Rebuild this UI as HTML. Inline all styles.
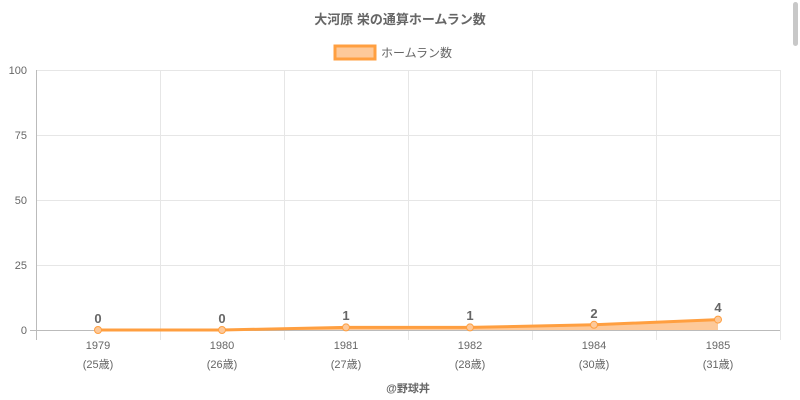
<!DOCTYPE html>
<html><head><meta charset="utf-8"><style>
html,body{margin:0;padding:0;background:#fff;width:800px;height:400px;overflow:hidden}
svg{display:block}
text{font-family:"Liberation Sans","Noto Sans CJK JP",sans-serif}
</style></head><body>
<svg width="800" height="400" viewBox="0 0 800 400">
<rect x="793" y="2" width="5" height="44" rx="2.5" fill="#c8c8c8"/>
<text x="400" y="24" text-anchor="middle" font-size="13" font-weight="bold" fill="#666">大河原 栄の通算ホームラン数</text>
<rect x="335" y="46" width="40" height="13" fill="#fdc99a" stroke="#ff9f40" stroke-width="3"/>
<text x="381" y="57" font-size="12" fill="#666">ホームラン数</text>
<g stroke="#e6e6e6" stroke-width="1">
<line x1="36" y1="70.5" x2="780" y2="70.5"/>
<line x1="36" y1="135.5" x2="780" y2="135.5"/>
<line x1="36" y1="200.5" x2="780" y2="200.5"/>
<line x1="36" y1="265.5" x2="780" y2="265.5"/>
<line x1="160.5" y1="70" x2="160.5" y2="340"/>
<line x1="284.5" y1="70" x2="284.5" y2="340"/>
<line x1="408.5" y1="70" x2="408.5" y2="340"/>
<line x1="532.5" y1="70" x2="532.5" y2="340"/>
<line x1="656.5" y1="70" x2="656.5" y2="340"/>
<line x1="780.5" y1="70" x2="780.5" y2="340"/>
</g>
<line x1="36.5" y1="70" x2="36.5" y2="340" stroke="#bbb"/>
<line x1="30" y1="330.5" x2="780" y2="330.5" stroke="#bbb"/>
<g font-size="11" fill="#666" text-anchor="end">
<text x="27" y="74">100</text><text x="27" y="139">75</text><text x="27" y="204">50</text><text x="27" y="269">25</text><text x="27" y="334">0</text>
</g>
<path d="M98,330 L222,330 L346,327.4 L470,327.4 L594,324.8 L718,319.6 L718,330 Z" fill="#fdc99a"/>
<polyline points="98,330 222,330 346,327.4 470,327.4 594,324.8 718,319.6" fill="none" stroke="#ff9f40" stroke-width="3"/>
<g fill="#fdc99a" stroke="#ff9f40" stroke-width="1">
<circle cx="98" cy="330" r="3.5"/><circle cx="222" cy="330" r="3.5"/><circle cx="346" cy="327.4" r="3.5"/><circle cx="470" cy="327.4" r="3.5"/><circle cx="594" cy="324.8" r="3.5"/><circle cx="718" cy="319.6" r="3.5"/>
</g>
<g font-size="13" font-weight="bold" fill="#666" text-anchor="middle">
<text x="98" y="323">0</text><text x="222" y="323">0</text><text x="346" y="320">1</text><text x="470" y="320">1</text><text x="594" y="318">2</text><text x="718" y="312">4</text>
</g>
<g font-size="11" fill="#666" text-anchor="middle">
<text x="98" y="349">1979</text><text x="222" y="349">1980</text><text x="346" y="349">1981</text><text x="470" y="349">1982</text><text x="594" y="349">1984</text><text x="718" y="349">1985</text>
<text x="98" y="368">(25歳)</text><text x="222" y="368">(26歳)</text><text x="346" y="368">(27歳)</text><text x="470" y="368">(28歳)</text><text x="594" y="368">(30歳)</text><text x="718" y="368">(31歳)</text>
</g>
<text x="408" y="392" text-anchor="middle" font-size="11" font-weight="bold" fill="#666">@野球丼</text>
</svg>
</body></html>
